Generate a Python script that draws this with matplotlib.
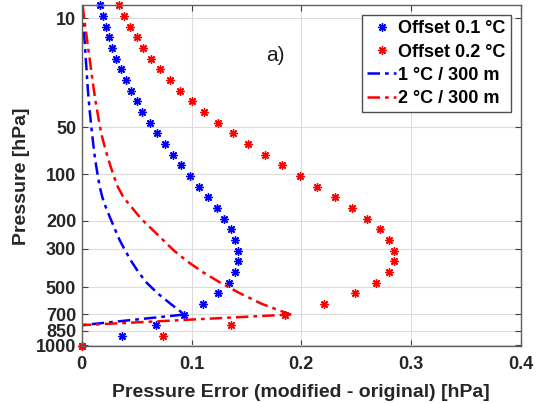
import numpy as np
import matplotlib
matplotlib.use("Agg")
import matplotlib.pyplot as plt
from matplotlib.ticker import FixedLocator, FixedFormatter, NullLocator

plt.rcParams['font.family'] = ['Liberation Sans', 'DejaVu Sans']

# ============================================================
# Data: one value per km of altitude (32 km at the top -> 0 km)
# ============================================================
pressure_hpa = [8.25, 9.66, 11.31, 13.24, 15.50, 18.15, 21.25, 24.88, 29.13, 34.11,
                39.94, 46.76, 54.74, 64.09, 75.04, 87.86, 102.87, 120.44, 141.01, 165.09,
                193.29, 226.30, 264.38, 307.45, 355.99, 410.63, 471.83, 540.23, 616.40,
                701.06, 794.94, 898.74, 1013.25]

offset_01 = [0.0168, 0.0193, 0.0223, 0.0253, 0.0280, 0.0314, 0.0356, 0.0402, 0.0447, 0.0502,
             0.0553, 0.0620, 0.0686, 0.0759, 0.0832, 0.0905, 0.0989, 0.1071, 0.1147, 0.1229,
             0.1298, 0.1356, 0.1398, 0.1420, 0.1423, 0.1398, 0.1338, 0.1244, 0.1107, 0.0932,
             0.0677, 0.0371, 0.0]

offset_02 = [0.0341, 0.0384, 0.0441, 0.0502, 0.0559, 0.0632, 0.0714, 0.0802, 0.0895, 0.1005,
             0.1114, 0.1238, 0.1375, 0.1516, 0.1665, 0.1820, 0.1984, 0.2147, 0.2305, 0.2459,
             0.2600, 0.2714, 0.2795, 0.2841, 0.2847, 0.2795, 0.2680, 0.2486, 0.2209, 0.1850,
             0.1356, 0.0744, 0.0]

grad_1c = [0.0003, 0.0009, 0.0016, 0.0024, 0.0031, 0.0037, 0.0044, 0.0050, 0.0057, 0.0065,
           0.0074, 0.0084, 0.0094, 0.0105, 0.0117, 0.0131, 0.0147, 0.0164, 0.0188, 0.0222,
           0.0262, 0.0303, 0.0345, 0.0396, 0.0452, 0.0515, 0.0590, 0.0690, 0.0810, 0.0935,
           0.0, 0.0, 0.0]

grad_2c = [0.0009, 0.0020, 0.0033, 0.0046, 0.0059, 0.0072, 0.0085, 0.0098, 0.0112, 0.0126,
           0.0143, 0.0160, 0.0178, 0.0203, 0.0230, 0.0260, 0.0292, 0.0328, 0.0380, 0.0460,
           0.0540, 0.0640, 0.0740, 0.0840, 0.0960, 0.1100, 0.1260, 0.1440, 0.1640, 0.1900,
           0.0, 0.0, 0.0]

y_ticks = [10, 50, 100, 200, 300, 500, 700, 850, 1000]
x_ticks = [0, 0.1, 0.2, 0.3, 0.4]
x_ticklabels = ["0", "0.1", "0.2", "0.3", "0.4"]


# ============================================================
# Standard-atmosphere height scale for the pressure axis
# ============================================================
def p_to_z(p):
    p = np.clip(np.asarray(p, dtype=float), 1e-3, None)
    z_trop = 44.3308 * (1 - (p / 1013.25) ** 0.190263)
    z_strat = 11 + 6.3416 * np.log(226.30 / p)
    return np.where(p >= 226.30, z_trop, z_strat)


def z_to_p(z):
    z = np.asarray(z, dtype=float)
    p_trop = 1013.25 * np.clip(1 - z / 44.3308, 1e-6, None) ** (1 / 0.190263)
    p_strat = 226.30 * np.exp(-(z - 11) / 6.3416)
    return np.where(z <= 11, p_trop, p_strat)


# ============================================================
# Plot
# ============================================================
fig = plt.figure(figsize=(5.4, 4.03), dpi=100)
ax = fig.add_axes([0.1513, 0.1402, 0.8135, 0.8462])
ax.set_yscale("function", functions=(p_to_z, z_to_p))

ax.plot(offset_01, pressure_hpa, linestyle="none", marker=(8, 2, 0), markersize=6,
        markeredgewidth=1.0, color="#0000ff", label="Offset 0.1 \u00b0C", clip_on=False)
ax.plot(offset_02, pressure_hpa, linestyle="none", marker=(8, 2, 0), markersize=6,
        markeredgewidth=1.0, color="#ff0000", label="Offset 0.2 \u00b0C", clip_on=False)
ax.plot(grad_1c, pressure_hpa, linestyle=(0, (5, 2, 1.5, 2)), linewidth=1.8,
        color="#0000ff", label="1 \u00b0C / 300 m")
ax.plot(grad_2c, pressure_hpa, linestyle=(0, (5, 2, 1.5, 2)), linewidth=1.8,
        color="#ff0000", label="2 \u00b0C / 300 m")

ax.set_xlim(0, 0.4)
ax.set_ylim(8.25, 1013.25)

ax.xaxis.set_major_locator(FixedLocator(x_ticks))
ax.xaxis.set_major_formatter(FixedFormatter(x_ticklabels))
ax.yaxis.set_major_locator(FixedLocator(y_ticks))
ax.yaxis.set_major_formatter(FixedFormatter([str(v) for v in y_ticks]))
ax.yaxis.set_minor_locator(NullLocator())
ax.xaxis.set_minor_locator(NullLocator())

ax.tick_params(direction="in", length=4, width=0.8, colors="#404040",
               top=True, right=True, labelsize=13)
ax.tick_params(axis="x", pad=7)
ax.tick_params(axis="y", pad=4)
for lab in ax.get_xticklabels() + ax.get_yticklabels():
    lab.set_fontweight("bold")
    lab.set_color("#262626")
for sp in ax.spines.values():
    sp.set_color("#606060")
    sp.set_linewidth(1.0)

ax.grid(True, color="#dcdcdc", linewidth=0.8)
ax.set_axisbelow(True)

ax.set_xlabel("Pressure Error (modified - original) [hPa]", fontsize=14,
              fontweight="bold", color="#262626", labelpad=8)
ax.set_ylabel("Pressure [hPa]", fontsize=14, fontweight="bold", color="#262626", labelpad=4)

ax.text(0.442, 0.852, "a)", transform=ax.transAxes, fontsize=15,
        ha="center", va="center", color="#1a1a1a")

leg = ax.legend(loc="upper right", bbox_to_anchor=(0.9766, 0.972), borderaxespad=0,
                prop={"size": 13, "weight": "bold"}, handlelength=1.6, handletextpad=0.1,
                labelspacing=0.34, borderpad=0.3, fancybox=False, framealpha=1)
leg.get_frame().set_edgecolor("#505050")
leg.get_frame().set_linewidth(1.0)

plt.savefig("out.png", dpi=100)
